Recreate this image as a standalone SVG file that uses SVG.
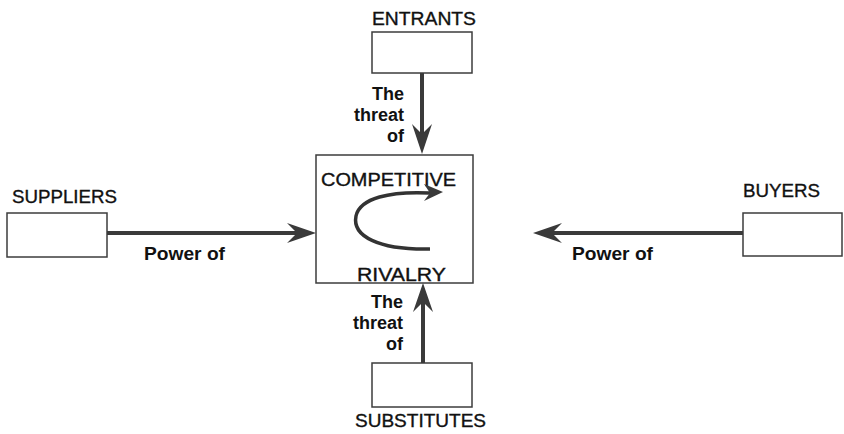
<svg xmlns="http://www.w3.org/2000/svg" width="844" height="434" viewBox="0 0 844 434">
  <style>
    .box { fill: #ffffff; stroke: #3c3c3c; stroke-width: 1.5; }
    .title { font-family: "Liberation Sans", Arial, sans-serif; font-size: 18px; fill: #111; stroke: #111; stroke-width: 0.35; }
    .lbl { font-family: "Liberation Sans", Arial, sans-serif; font-size: 18px; font-weight: bold; fill: #111; }
    .conn { stroke: #3a3a3a; stroke-width: 4; fill: none; }
    .head { fill: #3a3a3a; }
  </style>
  <rect width="844" height="434" fill="#ffffff"/>

  <!-- Central rivalry node -->
  <g id="rivalry">
    <rect class="box" x="316" y="155" width="157" height="128"/>
    <text class="title" x="321" y="186" textLength="135" lengthAdjust="spacingAndGlyphs">COMPETITIVE</text>
    <text class="title" x="357" y="281" textLength="89" lengthAdjust="spacingAndGlyphs">RIVALRY</text>
    <path d="M430,249 C378,250 352,236 356,216 C360,198 390,191 430,193" stroke="#333" stroke-width="3.5" fill="none"/>
    <path class="head" d="M443,192 L424,184 L430,193 L424,201 Z"/>
  </g>

  <g id="entrants">
    <rect class="box" x="372" y="32" width="100" height="41"/>
    <text class="title" x="372" y="25" textLength="104" lengthAdjust="spacingAndGlyphs">ENTRANTS</text>
  </g>

  <g id="suppliers">
    <rect class="box" x="7" y="213" width="100" height="44"/>
    <text class="title" x="12" y="203" textLength="105" lengthAdjust="spacingAndGlyphs">SUPPLIERS</text>
  </g>

  <g id="buyers">
    <rect class="box" x="743" y="213" width="99" height="43"/>
    <text class="title" x="743" y="197" textLength="77" lengthAdjust="spacingAndGlyphs">BUYERS</text>
  </g>

  <g id="substitutes">
    <rect class="box" x="372" y="363" width="100" height="44"/>
    <text class="title" x="355" y="427" textLength="131" lengthAdjust="spacingAndGlyphs">SUBSTITUTES</text>
  </g>

  <!-- Connectors with their labels -->
  <g id="connectors">
    <!-- entrants down to rivalry -->
    <line class="conn" x1="422" y1="73" x2="422" y2="140"/>
    <path class="head" d="M422,154 L412,124 L422,134 L432,124 Z"/>
    <!-- substitutes up to rivalry -->
    <line class="conn" x1="423" y1="363" x2="423" y2="296"/>
    <path class="head" d="M423,283 L413,312 L423,302 L433,312 Z"/>
    <!-- suppliers right to rivalry -->
    <line class="conn" x1="107" y1="233" x2="302" y2="233"/>
    <path class="head" d="M316,233 L287,223 L297,233 L287,243 Z"/>
    <!-- buyers left to rivalry -->
    <line class="conn" x1="743" y1="233" x2="546" y2="233"/>
    <path class="head" d="M533,233 L562,223 L552,233 L562,243 Z"/>

    <text class="lbl" x="404" y="100" text-anchor="end">The</text>
    <text class="lbl" x="404" y="121" text-anchor="end">threat</text>
    <text class="lbl" x="404" y="142" text-anchor="end">of</text>

    <text class="lbl" x="403" y="308" text-anchor="end">The</text>
    <text class="lbl" x="403" y="329" text-anchor="end">threat</text>
    <text class="lbl" x="403" y="350" text-anchor="end">of</text>

    <text class="lbl" x="144" y="260" textLength="81" lengthAdjust="spacingAndGlyphs">Power of</text>
    <text class="lbl" x="572" y="260" textLength="81" lengthAdjust="spacingAndGlyphs">Power of</text>
  </g>
</svg>
